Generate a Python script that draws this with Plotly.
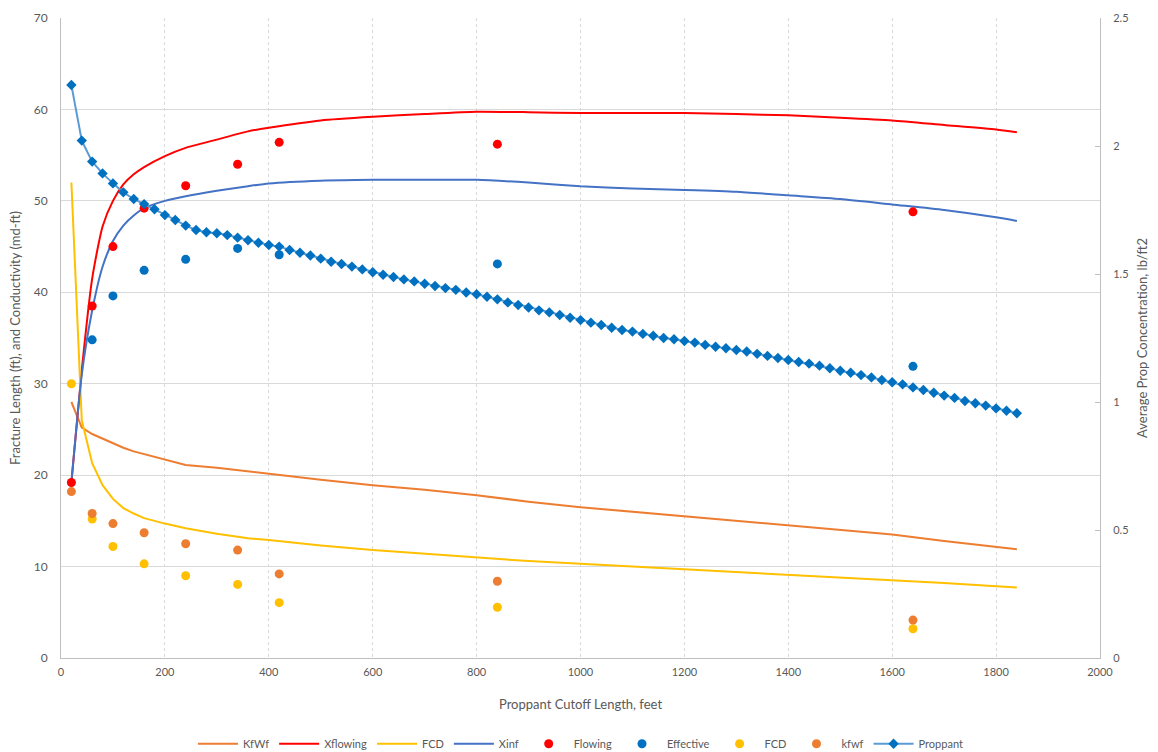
import plotly.graph_objects as go

# ---- data ----
line_x = [20, 40, 60, 80, 100, 120, 140, 160, 200, 240, 300, 360, 400, 500, 600, 700, 800,
          900, 1000, 1100, 1200, 1300, 1400, 1500, 1600, 1700, 1800, 1840]
kfwf_line = [28.0, 25.2, 24.5, 24.0, 23.5, 23.0, 22.6, 22.3, 21.7, 21.1, 20.8, 20.4, 20.2, 19.5,
             18.9, 18.4, 17.8, 17.1, 16.5, 16.0, 15.5, 15.0, 14.55, 14.0, 13.5, 12.8, 12.15, 11.9]
xflowing_line = [19.2, 31.5, 41.5, 47.2, 50.0, 51.8, 52.9, 53.7, 54.9, 55.8, 56.7, 57.6, 58.0, 58.8,
                 59.2, 59.5, 59.75, 59.7, 59.6, 59.6, 59.6, 59.5, 59.35, 59.1, 58.8, 58.3, 57.8, 57.5]
fcd_line = [52.0, 26.0, 21.3, 18.9, 17.4, 16.4, 15.8, 15.3, 14.7, 14.2, 13.6, 13.1, 12.9, 12.3,
            11.8, 11.4, 11.0, 10.6, 10.3, 10.0, 9.7, 9.4, 9.15, 8.85, 8.5, 8.2, 7.85, 7.7]
xinf_line = [19.2, 31.0, 38.0, 42.8, 45.6, 47.3, 48.4, 49.2, 50.0, 50.5, 51.1, 51.6, 51.9, 52.2,
             52.3, 52.3, 52.3, 52.0, 51.6, 51.35, 51.2, 51.0, 50.6, 50.2, 49.6, 49.0, 48.2, 47.8]

pt_x = [20, 60, 100, 160, 240, 340, 420, 840, 1640]
flowing = [19.2, 38.5, 45.0, 49.2, 51.65, 54.0, 56.4, 56.2, 48.8]
eff_x = [60, 100, 160, 240, 340, 420, 840, 1640]
effective = [34.8, 39.6, 42.4, 43.6, 44.8, 44.1, 43.1, 31.9]
fcd_pts = [30.0, 15.2, 12.2, 10.3, 9.0, 8.05, 6.05, 5.55, 3.2]
kfwf_pts = [18.2, 15.8, 14.7, 13.7, 12.5, 11.8, 9.2, 8.4, 4.15]

prop_x = list(range(20, 1841, 20))
proppant = [2.238, 2.021, 1.939, 1.893, 1.854, 1.819, 1.793, 1.773, 1.753, 1.730,
            1.711, 1.689, 1.672, 1.663, 1.659, 1.652, 1.642, 1.632, 1.622, 1.613,
            1.607, 1.594, 1.583, 1.572, 1.560, 1.548, 1.539, 1.529, 1.518, 1.507,
            1.497, 1.488, 1.479, 1.471, 1.462, 1.453, 1.445, 1.438, 1.428, 1.421,
            1.411, 1.401, 1.389, 1.379, 1.369, 1.358, 1.350, 1.340, 1.329, 1.320,
            1.310, 1.301, 1.290, 1.281, 1.275, 1.266, 1.259, 1.250, 1.245, 1.238,
            1.232, 1.223, 1.216, 1.210, 1.203, 1.197, 1.188, 1.180, 1.172, 1.164,
            1.156, 1.150, 1.142, 1.132, 1.122, 1.114, 1.105, 1.096, 1.086, 1.077,
            1.069, 1.057, 1.047, 1.036, 1.025, 1.016, 1.004, 0.995, 0.986, 0.975,
            0.966, 0.956]

ORANGE = "#ED7D31"
RED = "#FF0000"
YELLOW = "#FFC000"
BLUE_LINE = "#4472C4"
BLUE_DOT = "#0070C0"
LIGHT_BLUE = "#5B9BD5"
GRID = "#D9D9D9"
TXT = "#595959"
FONT = "Lato"

fig = go.Figure()
fig.add_trace(go.Scatter(x=line_x, y=kfwf_line, mode="lines", name="KfWf",
                         line=dict(color=ORANGE, width=2)))
fig.add_trace(go.Scatter(x=line_x, y=xflowing_line, mode="lines", name="Xflowing",
                         line=dict(color=RED, width=2, shape="spline", smoothing=0.6)))
fig.add_trace(go.Scatter(x=line_x, y=fcd_line, mode="lines", name="FCD",
                         line=dict(color=YELLOW, width=2)))
fig.add_trace(go.Scatter(x=line_x, y=xinf_line, mode="lines", name="Xinf",
                         line=dict(color=BLUE_LINE, width=2, shape="spline", smoothing=0.6)))
fig.add_trace(go.Scatter(x=pt_x, y=flowing, mode="markers", name="Flowing",
                         marker=dict(color=RED, size=9)))
fig.add_trace(go.Scatter(x=eff_x, y=effective, mode="markers", name="Effective",
                         marker=dict(color=BLUE_DOT, size=9)))
fig.add_trace(go.Scatter(x=pt_x, y=fcd_pts, mode="markers", name="FCD",
                         marker=dict(color=YELLOW, size=9)))
fig.add_trace(go.Scatter(x=pt_x, y=kfwf_pts, mode="markers", name="kfwf",
                         marker=dict(color=ORANGE, size=9)))
fig.add_trace(go.Scatter(x=prop_x, y=proppant, mode="lines+markers", name="Proppant",
                         yaxis="y2",
                         line=dict(color=LIGHT_BLUE, width=2),
                         marker=dict(color=BLUE_DOT, size=8, symbol="diamond")))

fig.update_layout(
    width=1158, height=752,
    margin=dict(l=61, r=58, t=18, b=94, autoexpand=False),
    paper_bgcolor="white", plot_bgcolor="white",
    font=dict(family=FONT, size=12, color=TXT),
    showlegend=True,
    legend=dict(orientation="h", x=0.5, xanchor="center", y=-0.134, yanchor="middle",
                font=dict(size=11, color=TXT), itemwidth=40, tracegroupgap=0),
    xaxis=dict(range=[0, 2000], dtick=200, tick0=0, automargin=False,
               showgrid=True, gridcolor=GRID, griddash="dot", gridwidth=1,
               showline=True, linecolor="#BFBFBF", linewidth=1, mirror=False,
               zeroline=False, ticks="", ticklabelstandoff=4,
               title=dict(text="Proppant Cutoff Length, feet", font=dict(size=13, color=TXT),
                          standoff=22),
               tickfont=dict(size=11, color=TXT)),
    yaxis=dict(range=[0, 70], dtick=10, tick0=0, automargin=False,
               showgrid=True, gridcolor=GRID, gridwidth=1,
               showline=True, linecolor="#BFBFBF", linewidth=1,
               zeroline=False, ticks="", ticklabelstandoff=10,
               title=dict(text="Fracture Length (ft), and Conductivity (md-ft)",
                          font=dict(size=13, color=TXT), standoff=10),
               tickfont=dict(size=12, color=TXT)),
    yaxis2=dict(range=[0, 2.5], dtick=0.5, tick0=0, overlaying="y", side="right",
                automargin=False,
                showgrid=False, showline=True, linecolor="#BFBFBF", linewidth=1,
                zeroline=False, ticks="inside", ticklen=5, tickcolor="#BFBFBF",
                ticklabelstandoff=10,
                title=dict(text="Average Prop Concentration, lb/ft2",
                           font=dict(size=13, color=TXT), standoff=10),
                tickfont=dict(size=11, color=TXT)),
)

fig.write_html("out.html", config={"displayModeBar": False},
               post_script="document.body.style.margin='0';")
